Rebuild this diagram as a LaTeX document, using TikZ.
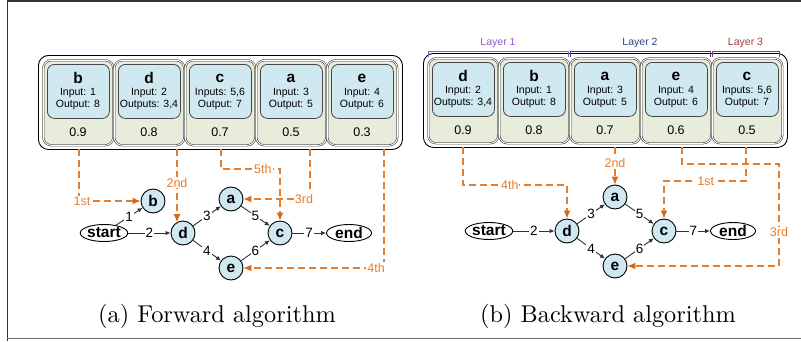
\documentclass[tikz,border=0pt]{standalone}
\usepackage{fontspec}
\newfontfamily\arialf{Liberation Sans}
\newfontfamily\capfont{lmroman10-regular}[Extension=.otf]
\usetikzlibrary{arrows.meta,calc,shapes.geometric}
\definecolor{cellblue}{RGB}{208,232,240}
\definecolor{cellgreen}{RGB}{232,236,218}
\definecolor{cellline}{RGB}{70,70,70}
\definecolor{orng}{RGB}{230,125,45}
\definecolor{orngd}{RGB}{215,105,20}
\definecolor{layA}{RGB}{150,90,200}
\definecolor{layB}{RGB}{40,70,140}
\definecolor{layC}{RGB}{160,60,50}
\tikzset{
 frameline/.style={draw=black!80, line width=1.6pt},
 panelbox/.style={draw=black, line width=0.9pt, rounded corners=10pt, fill=white, minimum width=364pt, minimum height=94pt, anchor=north west, inner sep=0pt},
 cellbox/.style={draw=cellline, line width=0.6pt, double=white, double distance=0.9pt, fill=cellgreen, rounded corners=8pt, minimum width=70pt, minimum height=85pt, anchor=north west, inner sep=0pt},
 bluebox/.style={draw=cellline, line width=0.8pt, fill=cellblue, rounded corners=7pt, minimum width=62pt, minimum height=54pt, anchor=north west, inner sep=0pt},
 ltrtxt/.style={font=\arialf\bfseries\fontsize{15.5}{15.5}\selectfont, inner sep=0pt},
 infotxt/.style={font=\arialf\fontsize{10.5}{10.5}\selectfont, inner sep=0pt},
 valtxt/.style={font=\arialf\fontsize{12.5}{12.5}\selectfont, inner sep=0pt},
 gnode/.style={circle, draw=black, line width=0.9pt, fill=cellblue, minimum size=24pt, inner sep=0pt, font=\arialf\bfseries\fontsize{15.5}{15.5}\selectfont},
 termnode/.style={ellipse, draw=black, line width=0.9pt, fill=white, minimum width=45pt, minimum height=17pt, inner sep=0pt, font=\arialf\bfseries\fontsize{15.5}{15.5}\selectfont},
 gedge/.style={draw=black!80, line width=0.9pt, -{Latex[length=5pt,width=4.5pt]}},
 elab/.style={fill=white, inner sep=1pt, font=\arialf\fontsize{13.5}{13.5}\selectfont},
 ord/.style={draw=orng, line width=1.2pt, dash pattern=on 7pt off 4pt, -{Latex[length=8pt,width=7pt,color=orngd]}},
 olab/.style={fill=white, text=orng, inner sep=1pt, font=\arialf\fontsize{12.5}{12.5}\selectfont},
 laylab/.style={font=\arialf\fontsize{10.5}{10.5}\selectfont, inner sep=0pt},
 captxt/.style={font=\capfont\fontsize{24.3}{26}\selectfont, anchor=base, inner sep=0pt},
}
\newcommand\mkcell[7]{%
  \node[cellbox] (#1) at (#2,#3) {};
  \node[bluebox] (#1-in) at ({#2+4},{#3+4}) {};
  \node[ltrtxt] (#1-l) at ({#2+35},{#3+18}) {#4};
  \node[infotxt] (#1-i) at ({#2+35},{#3+33}) {#5};
  \node[infotxt] (#1-o) at ({#2+35},{#3+45}) {#6};
  \node[valtxt] (#1-v) at ({#2+35},{#3+72}) {#7};
}
\begin{document}
\begin{tikzpicture}[x=1pt,y=-1pt]
\useasboundingbox (0,0) rectangle (801,341);
% frame
\draw[frameline] (7,0.8) -- (801,0.8);
\draw[frameline, line width=0.9pt] (7,0) -- (7,341);
\draw[frameline, draw=black!60] (7,338.5) -- (801,338.5);

% ---------- left panel ----------
\node[panelbox] (PL) at (38,55) {};
\mkcell{L1}{43}{60}{b}{Input: 1}{Output: 8}{0.9}
\mkcell{L2}{114}{60}{d}{Input: 2}{Outputs: 3,4}{0.8}
\mkcell{L3}{185}{60}{c}{Inputs: 5,6}{Output: 7}{0.7}
\mkcell{L4}{256}{60}{a}{Input: 3}{Output: 5}{0.5}
\mkcell{L5}{327}{60}{e}{Input: 4}{Output: 6}{0.3}

\node[termnode] (s1) at (104,233) {start};
\node[gnode] (b1) at (153,201) {b};
\node[gnode] (d1) at (183,233) {d};
\node[gnode] (a1) at (231,199) {a};
\node[gnode] (c1) at (280,233) {c};
\node[gnode] (e1) at (231,268) {e};
\node[termnode] (t1) at (349,233) {end};

\draw[gedge] (s1) -- node[elab]{1} (b1);
\draw[gedge] (s1) -- node[elab]{2} (d1);
\draw[gedge] (d1) -- node[elab]{3} (a1);
\draw[gedge] (d1) -- node[elab]{4} (e1);
\draw[gedge] (a1) -- node[elab]{5} (c1);
\draw[gedge] (e1) -- node[elab]{6} (c1);
\draw[gedge] (c1) -- node[elab]{7} (t1);

\coordinate (f1) at (79,149);
\coordinate (f2) at (177,149);
\coordinate (f3) at (221,149);
\coordinate (f4) at (310,149);
\coordinate (f5) at (384,149);
\coordinate (k5) at (c1 |- 0,169);
\draw[ord] (f1) |- node[olab,pos=0.524]{1st} (b1);
\draw[ord] (f2) -- node[olab,pos=0.46]{2nd} (f2 |- d1.120);
\draw[ord] (f4) |- node[olab,pos=0.545]{3rd} (a1);
\draw[ord] (f5) |- node[olab,pos=0.528]{4th} (e1);
\draw[ord] (f3) -- (f3 |- k5) -- node[olab,pos=0.71]{5th} (k5) -- (c1);

% ---------- right panel ----------
\node[panelbox] (PR) at (423,53) {};
\mkcell{R1}{428}{58}{d}{Input: 2}{Outputs: 3,4}{0.9}
\mkcell{R2}{499}{58}{b}{Input: 1}{Output: 8}{0.8}
\mkcell{R3}{570}{58}{a}{Input: 3}{Output: 5}{0.7}
\mkcell{R4}{641}{58}{e}{Input: 4}{Output: 6}{0.6}
\mkcell{R5}{712}{58}{c}{Inputs: 5,6}{Output: 7}{0.5}

\draw[layA, line width=0.9pt] (428,57) -- (428,51) -- (568,51) -- (568,57);
\draw[layB, line width=0.9pt] (570,57) -- (570,51) -- (710,51) -- (710,57);
\draw[layC, line width=0.9pt] (712,57) -- (712,51) -- (779,51) -- (779,57);
\node[laylab, text=layA] (lay1) at (498,43) {Layer 1};
\node[laylab, text=layB] (lay2) at (640,43) {Layer 2};
\node[laylab, text=layC] (lay3) at (745.5,43) {Layer 3};

\node[termnode] (s2) at (489,231) {start};
\node[gnode] (d2) at (567,231) {d};
\node[gnode] (a2) at (615,197) {a};
\node[gnode] (c2) at (664,231) {c};
\node[gnode] (e2) at (615,266) {e};
\node[termnode] (t2) at (733,231) {end};

\draw[gedge] (s2) -- node[elab]{2} (d2);
\draw[gedge] (d2) -- node[elab]{3} (a2);
\draw[gedge] (d2) -- node[elab]{4} (e2);
\draw[gedge] (a2) -- node[elab]{5} (c2);
\draw[gedge] (e2) -- node[elab]{6} (c2);
\draw[gedge] (c2) -- node[elab]{7} (t2);

\coordinate (g1) at (463,147);
\coordinate (g3) at (615,147);
\coordinate (g4) at (682,147);
\coordinate (g5) at (746,147);
\coordinate (q4) at (d2 |- 0,185);
\coordinate (q1) at (c2 |- 0,181);
\coordinate (q3) at (779,164);
\draw[ord] (g1) -- (g1 |- q4) -- node[olab,pos=0.45]{4th} (q4) -- (d2);
\draw[ord] (g3) -- node[olab,pos=0.42]{2nd} (a2);
\draw[ord] (g4) -- (g4 |- q3) -- (q3) -- node[olab,pos=0.67]{3rd} (q3 |- e2) -- (e2);
\draw[ord] (g5) -- (g5 |- q1) -- node[olab,pos=0.49]{1st} (q1) -- (c2);

% captions
\node[captxt] (capA) at (217,322) {(a) Forward algorithm};
\node[captxt] (capB) at (608,322) {(b) Backward algorithm};
\end{tikzpicture}
\end{document}
